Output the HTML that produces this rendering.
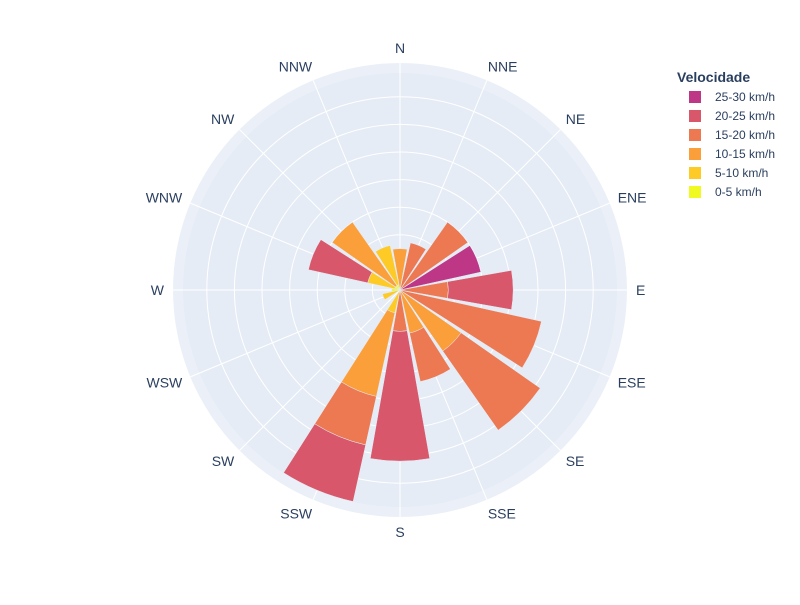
<!DOCTYPE html>
<html><head><meta charset="utf-8"><style>
body{margin:0;background:#fff;font-family:"Liberation Sans",sans-serif}
</style></head><body>
<svg id="c" width="800" height="600" viewBox="0 0 800 600" xmlns="http://www.w3.org/2000/svg">
<rect width="800" height="600" fill="#fff"/>
<circle cx="400" cy="290" r="227" fill="#ebf0f8"/>
<circle cx="400" cy="290" r="217" fill="#e5ecf6"/>
<g id="grid"></g><g id="bars"></g><g id="labels"></g>
<g id="legend">
<text x="677" y="82" font-size="14" font-weight="bold" fill="#2a3f5f">Velocidade</text>
</g>
</svg>
<script>
const directions=["N","NNE","NE","ENE","E","ESE","SE","SSE","S","SSW","SW","WSW","W","WNW","NW","NNW"];
const speedLabels=["0-5 km/h","5-10 km/h","10-15 km/h","15-20 km/h","20-25 km/h","25-30 km/h"];
const s0=[0,0,0,0,0,0,0,0,0,0,0,0,0.3,0.2,0.2,0.2];
const s1=[0,0,0,0,0,0,0,0,0,0.85,0,0.65,0,1.0,0,1.45];
const s2=[1.5,0,0,0,0,0,2.7,1.6,0,3.1,0,0,0,0,2.8,0];
const s3=[0,1.75,3.0,0,1.75,5.25,3.5,1.8,1.5,1.8,0,0,0,0,0,0];
const s4=[0,0,0,0,2.35,0,0,0,4.7,2.1,0,0,0,2.2,0,0];
const s5=[0,0,0,3.0,0,0,0,0,0,0,0,0,0,0,0,0];
const series=[s0,s1,s2,s3,s4,s5];
const colors=["#f0f921","#fdca26","#fb9f3a","#ed7953","#d8576b","#bd3786"];
const NS="http://www.w3.org/2000/svg",cx=400,cy=290,unit=27.6;
function rScale(v){return v*unit;}
function aScale(i){return i*22.5;}
function pt(r,deg){const a=deg*Math.PI/180;return [cx+r*Math.sin(a),cy-r*Math.cos(a)];}
function mk(t,attrs,parent){const e=document.createElementNS(NS,t);for(const k in attrs)e.setAttribute(k,attrs[k]);parent.appendChild(e);return e;}
const grid=document.getElementById('grid');
for(let k=1;k<=7;k++){
 const c=mk('circle',{cx:cx,cy:cy,r:rScale(k),fill:'none',stroke:'#fff','stroke-width':1},grid);
 
 
}
directions.forEach((d,i)=>{
 const p=pt(227,aScale(i));
 const l=mk('line',{x1:cx,y1:cy,x2:p[0],y2:p[1],stroke:'#fff','stroke-width':1},grid);
 
 
 const deg=aScale(i);const q=pt(240,deg);
 const s=Math.sin(deg*Math.PI/180),c=-Math.cos(deg*Math.PI/180);
 const anchor=Math.abs(s)<0.1?'middle':(s>0?'start':'end');
 const t=mk('text',{x:q[0]+(anchor==='start'?-4:anchor==='end'?4:0),y:q[1]+5+c*2,'text-anchor':anchor,'font-size':14,fill:'#2a3f5f'},document.getElementById('labels'));
 t.textContent=d;
 
 
});
const bars=document.getElementById('bars');
directions.forEach((d,i)=>{
 let base=0;
 series.forEach((s,j)=>{
  const v=s[i];if(v<=0)return;
  const r0=rScale(base),r1=rScale(base+v);base+=v;
  const a0=aScale(i)-10,a1=aScale(i)+10;
  const p1=pt(r0,a0),p2=pt(r1,a0),p3=pt(r1,a1),p4=pt(r0,a1);
  const path=`M${p1} L${p2} A${r1} ${r1} 0 0 1 ${p3} L${p4} A${r0} ${r0} 0 0 0 ${p1}Z`;
  const e=mk('path',{d:path,fill:colors[j],stroke:'#e5ecf6','stroke-width':0.5},bars);
  
  
 });
});
const lg=document.getElementById('legend');
for(let j=5;j>=0;j--){
 const y=97+(5-j)*19;
 const r=mk('rect',{x:689,y:y-6,width:12,height:12,fill:colors[j]},lg);
 
 
 const t=mk('text',{x:715,y:y+4,'font-size':12,fill:'#2a3f5f'},lg);
 t.textContent=speedLabels[j];
 
 
}
</script>
</body></html>
